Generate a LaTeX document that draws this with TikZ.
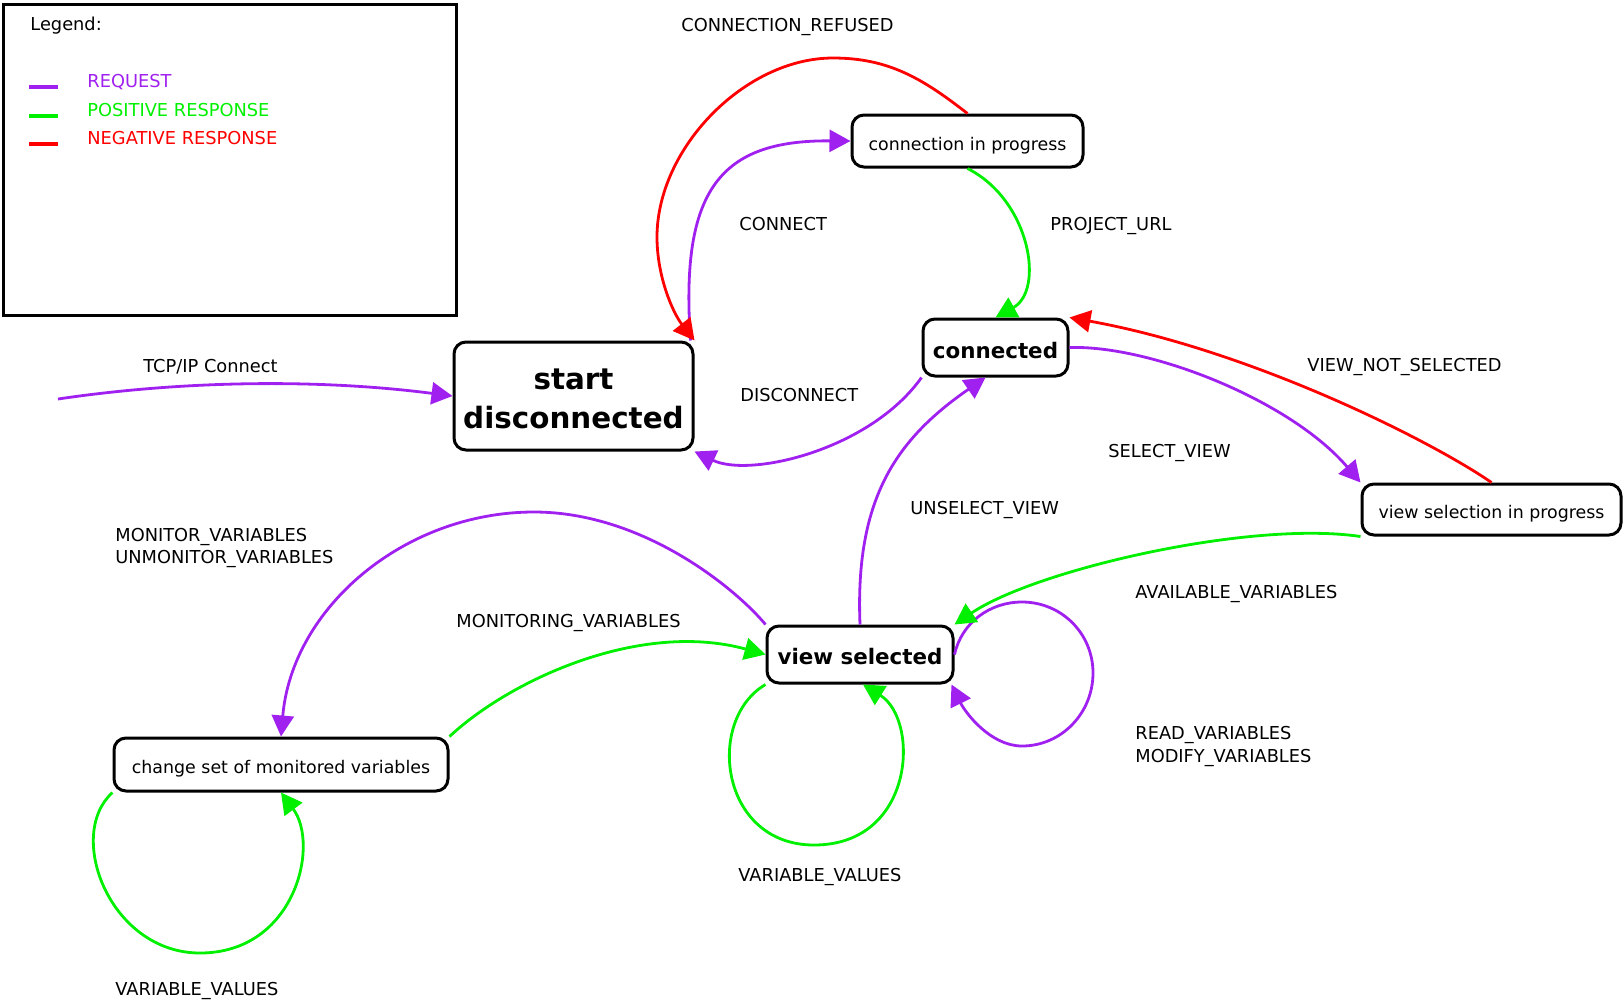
\documentclass[tikz,border=0pt]{standalone}
\usepackage{fontspec}
\setmainfont{DejaVu Sans}
\usetikzlibrary{arrows.meta}
\definecolor{reqc}{RGB}{160,32,240}
\definecolor{posc}{RGB}{0,240,0}
\definecolor{negc}{RGB}{255,0,0}
\begin{document}
\begin{tikzpicture}[x=0.5pt,y=-0.5pt,
  state/.style={draw, line width=1.5pt, rounded corners=6pt, fill=white, inner sep=0pt, align=center, font=\fontsize{8.7}{10.4}\selectfont},
  bstate/.style={state, font=\fontsize{10.7}{12.8}\selectfont\bfseries},
  lbl/.style={anchor=west, inner sep=0pt, align=left, font=\fontsize{8.9}{11.4}\selectfont},
  tipa/.style={-{Triangle[length=10.5pt,width=11pt]}},
  reqline/.style={draw=reqc, line width=1.4pt, tipa},
  posline/.style={draw=posc, line width=1.4pt, tipa},
  negline/.style={draw=negc, line width=1.4pt, tipa},
  legline/.style={line width=1.6pt}]
\useasboundingbox (0,0) rectangle (1623,1003);

% legend
\node[draw, line width=1.5pt, inner sep=0pt, minimum width=226.75pt, minimum height=155.5pt, anchor=north west] (legend) at (1.5,2.5) {};
\node[lbl] (leg) at (30,26) {Legend:};
\coordinate (lr1) at (29,87); \coordinate (lr2) at (58,87);
\coordinate (lp1) at (29,116); \coordinate (lp2) at (58,116);
\coordinate (ln1) at (29,144); \coordinate (ln2) at (58,144);
\draw[legline, reqc] (lr1) -- (lr2);
\draw[legline, posc] (lp1) -- (lp2);
\draw[legline, negc] (ln1) -- (ln2);
\node[lbl, text=reqc] (lreq) at (87,82) {REQUEST};
\node[lbl, text=posc] (lpos) at (87,110) {POSITIVE RESPONSE};
\node[lbl, text=negc] (lneg) at (87,138) {NEGATIVE RESPONSE};

% states
\node[state, font=\fontsize{14.7}{19.5}\selectfont\bfseries, minimum width=119.5pt, minimum height=54pt] (sd) at (573.5,396) {\rule{0pt}{12.8pt}start\\disconnected};
\node[state, minimum width=115.5pt, minimum height=26pt, text height=9pt, text depth=0pt] (crp) at (967.5,141) {connection in progress};
\node[bstate, minimum width=72.5pt, minimum height=28.5pt, text height=10.8pt, text depth=0pt] (con) at (995.5,347.5) {connected};
\node[state, minimum width=129.5pt, minimum height=25.5pt, text height=8.8pt, text depth=0pt] (vsip) at (1491.5,509.5) {view selection in progress};
\node[bstate, minimum width=93pt, minimum height=28.5pt, text height=9.5pt, text depth=0pt] (vs) at (860,654.5) {view selected};
\node[state, minimum width=167pt, minimum height=26.5pt, text height=8.8pt, text depth=0pt] (cs) at (281,764.5) {change set of monitored variables};

% connectors
\coordinate (tcpstart) at (58,399);
\draw[reqline] (tcpstart) .. controls (190,379.5) and (325,379.5) .. (sd.west);
\draw[reqline] ([xshift=-2pt]sd.north east) .. controls (680,190) and (720,140) .. (crp.west);
\draw[negline] (crp.north) .. controls (922,78) and (888,58) .. (833,58)
  .. controls (745,58) and (657,148) .. (657,237)
  .. controls (657,277) and (673,313) .. (sd.north east);
\draw[posline] (crp.south) .. controls (1030,200) and (1045,290) .. (con.north);
\draw[reqline] (con.south west) .. controls (870,450) and (750,478) .. (sd.south east);
\draw[reqline] (vs.north) .. controls (855,500) and (895,440) .. ([xshift=-5pt]con.south);
\draw[reqline] (con.east) .. controls (1150,345) and (1290,400) .. (vsip.north west);
\draw[negline] (vsip.north) .. controls (1430,440) and (1250,350) .. (con.north east);
\draw[reqline] (vs.north west) .. controls (737,590) and (644,512) .. (534,512)
  .. controls (404,512) and (292,608) .. (cs.north);
\draw[posline] (cs.north east) .. controls (510,680) and (640,620) .. (vs.west);
\draw[posline] (vs.south west) .. controls (705,720) and (720,845) .. (814,845)
  .. controls (915,845) and (920,720) .. ([xshift=1.5pt]vs.south);
\draw[reqline] (vs.east) .. controls (961.5,623) and (989.4,602) .. (1022,602)
  .. controls (1061.5,602) and (1093,633.5) .. (1093,673)
  .. controls (1093,713) and (1061.5,746) .. (1022,746)
  .. controls (990,746) and (965,712) .. ([xshift=-1.5pt]vs.south east);
\draw[posline] (vsip.south west) .. controls (1250,520) and (1035,570) .. (vs.north east);
\draw[posline] (cs.south west) .. controls (65,835) and (110,953) .. (200,953)
  .. controls (295,953) and (320,845) .. (cs.south);

% labels
\node[lbl] (ltcp) at (143,366.5) {TCP/IP Connect};
\node[lbl] (lrefused) at (681,26.5) {CONNECTION\_REFUSED};
\node[lbl] (lconnect) at (739,224) {CONNECT};
\node[lbl] (lproject) at (1050,225.5) {PROJECT\_URL};
\node[lbl] (ldisc) at (740,395) {DISCONNECT};
\node[lbl] (lvns) at (1307,366.5) {VIEW\_NOT\_SELECTED};
\node[lbl] (lsel) at (1108,452.5) {SELECT\_VIEW};
\node[lbl] (lunsel) at (910,509.5) {UNSELECT\_VIEW};
\node[lbl] (lmon) at (115,548) {MONITOR\_VARIABLES\\UNMONITOR\_VARIABLES};
\node[lbl] (lmoning) at (456,622.5) {MONITORING\_VARIABLES};
\node[lbl] (lavail) at (1135,593.5) {AVAILABLE\_VARIABLES};
\node[lbl] (lrw) at (1135,746.5) {READ\_VARIABLES\\MODIFY\_VARIABLES};
\node[lbl] (lvv1) at (738,877) {VARIABLE\_VALUES};
\node[lbl] (lvv2) at (115,990.5) {VARIABLE\_VALUES};
\end{tikzpicture}
\end{document}
